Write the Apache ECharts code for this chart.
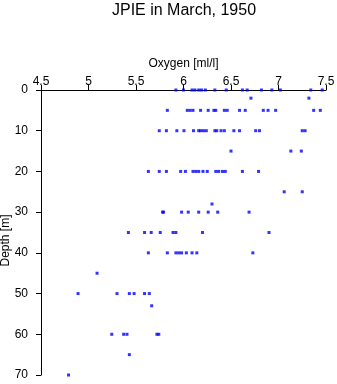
<!DOCTYPE html>
<html>
<head>
<meta charset="utf-8">
<script src="https://cdn.jsdelivr.net/npm/echarts@6/dist/echarts.min.js"></script>
<style>html,body{margin:0;padding:0;background:#fff}#c{width:337px;height:384px}</style>
</head>
<body>
<div id="c"></div>
<script>
// Oxygen [ml/l] readings at each depth [m]
const oxy_d0  = [5.92, 6.00, 6.09, 6.12, 6.16, 6.19, 6.23, 6.33, 6.45, 6.62, 6.67, 6.82, 6.93, 7.02, 7.34, 7.46];
const oxy_d2  = [6.71, 7.32];
const oxy_d5  = [5.83, 6.04, 6.07, 6.10, 6.18, 6.26, 6.32, 6.34, 6.43, 6.46, 6.59, 6.65, 6.84, 6.89, 6.97, 7.37, 7.44];
const oxy_d10 = [5.745, 5.82, 5.93, 6.005, 6.105, 6.16, 6.18, 6.21, 6.24, 6.33, 6.35, 6.395, 6.43, 6.53, 6.59, 6.76, 6.80, 7.25, 7.28];
const oxy_d15 = [6.50, 7.13, 7.24];
const oxy_d20 = [5.63, 5.745, 5.82, 5.97, 6.02, 6.10, 6.13, 6.16, 6.205, 6.25, 6.34, 6.37, 6.41, 6.44, 6.62, 6.79];
const oxy_d25 = [7.06, 7.25];
const oxy_d28 = [6.30];
const oxy_d30 = [5.78, 5.79, 5.98, 6.05, 6.16, 6.26, 6.36, 6.69];
const oxy_d35 = [5.42, 5.59, 5.66, 5.755, 5.89, 5.92, 6.20, 6.90];
const oxy_d40 = [5.63, 5.83, 5.92, 5.95, 5.98, 6.03, 6.09, 6.14, 6.73];
const oxy_d45 = [5.09];
const oxy_d50 = [4.89, 5.30, 5.43, 5.48, 5.59, 5.64];
const oxy_d53 = [5.665];
const oxy_d60 = [5.245, 5.37, 5.405, 5.72, 5.74];
const oxy_d65 = [5.43];
const oxy_d70 = [4.79];

const depths = [0, 2, 5, 10, 15, 20, 25, 28, 30, 35, 40, 45, 50, 53, 60, 65, 70];
const oxyRows = [oxy_d0, oxy_d2, oxy_d5, oxy_d10, oxy_d15, oxy_d20, oxy_d25, oxy_d28, oxy_d30,
                 oxy_d35, oxy_d40, oxy_d45, oxy_d50, oxy_d53, oxy_d60, oxy_d65, oxy_d70];

const titleText = 'JPIE in March, 1950';
const xName = 'Oxygen [ml/l]';
const yName = 'Depth [m]';

const points = [];
depths.forEach((d, i) => oxyRows[i].forEach(v => points.push([v, d])));

const chart = echarts.init(document.getElementById('c'), null, {renderer: 'canvas'});
const font = 'Liberation Sans, Arial, Helvetica, sans-serif';
chart.setOption({
  animation: false,
  backgroundColor: '#fff',
  title: {
    text: titleText, left: 179, top: -2, textAlign: 'center',
    textStyle: {fontFamily: font, fontSize: 16, fontWeight: 'normal', color: '#000'}
  },
  grid: {left: 41, right: 11, top: 90, bottom: 9, containLabel: false, outerBoundsMode: 'none'},
  xAxis: {
    type: 'value', position: 'top', min: 4.5, max: 7.5, interval: 0.5,
    name: xName, nameLocation: 'middle', nameGap: 20, nameMoveOverlap: false,
    nameTextStyle: {fontFamily: font, fontSize: 12, color: '#000'},
    axisLine: {show: true, lineStyle: {color: '#000', width: 1}},
    axisTick: {show: true, inside: false, length: 5, lineStyle: {color: '#000'}},
    axisLabel: {fontFamily: font, fontSize: 12, color: '#000', margin: 2},
    splitLine: {show: false}
  },
  yAxis: {
    type: 'value', inverse: true, min: 0, max: 70, interval: 10,
    name: yName, nameLocation: 'middle', nameGap: 29, nameRotate: 90, nameMoveOverlap: false,
    nameTextStyle: {fontFamily: font, fontSize: 12, color: '#000', padding: [0, 16, 0, 0]},
    axisLine: {show: true, lineStyle: {color: '#000', width: 1}},
    axisTick: {show: true, inside: false, length: 5, lineStyle: {color: '#000'}},
    axisLabel: {fontFamily: font, fontSize: 12, color: '#000', margin: 13},
    splitLine: {show: false}
  },
  series: [{
    type: 'scatter', data: points, symbol: 'rect', symbolSize: [3, 3],
    itemStyle: {color: '#0000ff'}
  }]
});
</script>
</body>
</html>
